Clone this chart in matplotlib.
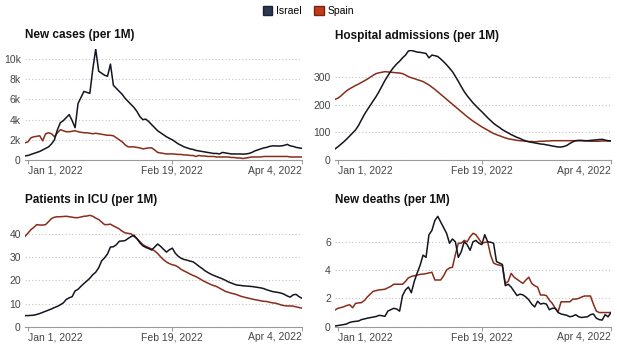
"""
Israel vs Spain covid indicators, Jan-Apr 2022 (per 1M)
"""

import numpy as np
import pandas as pd
import matplotlib
matplotlib.use("Agg")
import matplotlib.pyplot as plt
from matplotlib.patches import Patch

plt.rcParams['font.family'] = ['Liberation Sans', 'DejaVu Sans']

dates = pd.date_range("2021-12-31", periods=95, freq="D")

israel_cases = [400, 450, 550, 650, 750, 850, 1000, 1150, 1300, 1600,
                2000, 3000, 3700, 3900, 4200, 4500, 3900, 3200, 5600, 6200,
                6800, 6700, 6600, 9000, 11000, 8800, 8600, 8400, 8300, 9500,
                7400, 7100, 6800, 6500, 6100, 5800, 5500, 5200, 4800, 4300,
                4000, 4050, 3800, 3500, 3200, 2900, 2700, 2500, 2300, 2150,
                2000, 1800, 1600, 1450, 1300, 1200, 1100, 1050, 950, 900,
                850, 800, 750, 700, 650, 650, 600, 750, 700, 650,
                600, 600, 600, 600, 580, 600, 650, 750, 900, 1000,
                1100, 1200, 1250, 1350, 1400, 1400, 1380, 1400, 1450, 1550,
                1400, 1350, 1250, 1200, 1150]
spain_cases = [1700, 1800, 2200, 2300, 2350, 2400, 1900, 2600, 2700, 2600,
               2300, 2700, 3000, 2900, 2800, 2800, 2850, 2900, 2800, 2750,
               2700, 2700, 2650, 2600, 2650, 2600, 2550, 2500, 2450, 2450,
               2400, 2200, 2000, 1800, 1500, 1300, 1300, 1300, 1250, 1200,
               1100, 1150, 1200, 1200, 1000, 750, 700, 650, 600, 600,
               600, 580, 550, 550, 500, 500, 450, 450, 350, 450,
               400, 400, 350, 350, 350, 300, 300, 300, 300, 300,
               250, 250, 200, 200, 150, 200, 250, 300, 300, 300,
               300, 350, 350, 350, 350, 350, 350, 350, 350, 350,
               300, 300, 300, 300, 300]

israel_hosp = [40, 48, 57, 66, 76, 87, 98, 109, 125, 145,
               165, 182, 198, 214, 230, 248, 268, 288, 305, 322,
               336, 348, 358, 370, 380, 395, 397, 394, 391, 390,
               388, 386, 370, 380, 378, 375, 366, 356, 345, 333,
               320, 303, 285, 266, 248, 233, 220, 207, 196, 185,
               175, 164, 153, 143, 133, 125, 118, 110, 104, 98,
               92, 87, 82, 78, 73, 69, 66, 64, 62, 60,
               58, 57, 55, 53, 51, 49, 47, 47, 49, 53,
               60, 66, 70, 71, 71, 70, 70, 71, 72, 73,
               74, 75, 72, 70, 69]
spain_hosp = [220, 224, 232, 242, 251, 258, 264, 270, 275, 281,
              287, 293, 300, 307, 313, 316, 318, 320, 319, 318,
              317, 316, 315, 313, 308, 302, 298, 295, 291, 288,
              284, 278, 272, 264, 256, 247, 238, 229, 220, 211,
              202, 193, 184, 175, 166, 157, 149, 141, 134, 127,
              120, 114, 108, 102, 96, 92, 88, 84, 80, 77,
              75, 73, 71, 70, 69, 68, 67, 67, 66, 67,
              68, 68, 69, 69, 70, 70, 70, 70, 70, 70,
              70, 70, 70, 70, 70, 69, 69, 68, 68, 68,
              68, 69, 69, 69, 69]

israel_icu = [4.8, 4.8, 4.9, 5.0, 5.3, 5.7, 6.2, 6.7, 7.2, 7.7,
              8.3, 8.8, 9.5, 10.3, 11.8, 12.5, 13.0, 15.5, 16.2, 17.5,
              18.7, 19.8, 21.0, 22.5, 23.6, 25.5, 28.5, 29.8, 31.5, 34.5,
              34.6, 35.5, 37.0, 37.1, 37.3, 38.2, 39.0, 39.6, 38.0, 36.3,
              35.0, 34.3, 33.8, 33.2, 34.5, 35.8, 34.8, 33.5, 32.3, 33.3,
              34.0, 31.8, 30.5, 29.6, 29.1, 28.8, 28.4, 28.1, 27.2, 26.2,
              25.3, 24.3, 23.5, 22.8, 22.2, 21.7, 21.2, 20.7, 20.1, 19.4,
              18.9, 18.4, 18.0, 17.9, 17.7, 17.6, 17.5, 17.4, 17.2, 17.0,
              16.8, 16.5, 16.0, 15.6, 15.2, 15.0, 14.8, 14.5, 14.0, 13.3,
              12.8, 13.8, 14.0, 13.0, 12.3]
spain_icu = [39.1, 40.5, 42.0, 43.0, 44.2, 44.0, 44.0, 44.2, 45.5, 46.8,
             47.4, 47.6, 47.6, 47.7, 47.8, 47.6, 47.4, 47.2, 47.2, 47.5,
             47.8, 47.9, 48.2, 47.8, 47.0, 46.4, 45.3, 44.2, 44.2, 44.4,
             43.6, 43.0, 42.3, 41.3, 40.6, 40.4, 40.2, 39.0, 38.2, 36.8,
             35.5, 34.8, 34.2, 33.6, 32.8, 31.7, 30.3, 29.0, 28.0, 27.3,
             26.8, 26.5, 25.8, 24.8, 24.1, 23.5, 22.8, 22.2, 21.7, 21.0,
             20.2, 19.5, 18.9, 18.3, 17.8, 17.4, 16.7, 16.0, 15.3, 14.9,
             14.5, 14.2, 13.8, 13.3, 12.9, 12.6, 12.3, 12.0, 11.7, 11.5,
             11.2, 11.0, 10.9, 10.6, 10.3, 10.2, 9.8, 9.4, 9.1, 9.0,
             9.0, 8.9, 8.6, 8.3, 8.0]

israel_deaths = [0.05, 0.08, 0.12, 0.15, 0.2, 0.3, 0.35, 0.38, 0.4, 0.5,
                 0.55, 0.6, 0.64, 0.68, 0.72, 0.8, 0.78, 0.73, 1.1, 1.2,
                 1.3, 1.25, 1.1, 2.2, 2.6, 2.8, 2.4, 3.2, 3.8, 4.35,
                 5.06, 4.9, 6.5, 6.8, 7.5, 7.8, 7.4, 7.0, 6.6, 5.9,
                 6.2, 6.0, 4.9, 5.3, 6.0, 5.8, 5.4, 6.0, 6.1, 5.9,
                 5.8, 6.5, 6.0, 5.97, 5.9, 4.6, 4.5, 4.4, 2.9, 3.0,
                 2.8, 2.5, 2.2, 2.3, 2.25, 2.1, 1.9, 1.6, 1.4, 1.8,
                 1.6, 1.65, 1.6, 1.2, 1.3, 1.3, 1.0, 0.9, 0.85, 0.8,
                 0.7, 0.75, 0.85, 0.7, 0.65, 0.68, 0.7, 0.85, 0.9, 0.6,
                 0.5, 0.47, 0.85, 0.7, 1.0]
spain_deaths = [1.18, 1.3, 1.35, 1.41, 1.5, 1.55, 1.34, 1.65, 1.68, 1.7,
                1.85, 2.1, 2.3, 2.5, 2.55, 2.6, 2.62, 2.65, 2.75, 2.85,
                3.0, 3.0, 3.0, 3.0, 3.2, 3.45, 3.55, 3.6, 3.65, 3.7,
                3.72, 3.75, 3.8, 3.85, 3.3, 3.3, 3.3, 3.6, 4.0, 4.15,
                4.2, 5.1, 5.9, 5.9, 6.1, 6.0, 6.35, 6.6, 6.5, 6.2,
                5.9, 5.95, 6.0, 5.06, 4.5, 4.4, 4.35, 4.3, 3.06, 3.2,
                3.77, 3.5, 3.35, 3.2, 3.06, 3.3, 3.5, 3.06, 2.9, 2.8,
                2.24, 2.24, 2.2, 1.88, 1.65, 1.3, 1.06, 1.76, 1.76, 1.76,
                1.76, 1.95, 1.95, 2.0, 2.1, 2.17, 2.17, 2.17, 1.6, 1.1,
                1.0, 1.0, 1.0, 1.0, 1.0]

titles = ["New cases (per 1M)", "Hospital admissions (per 1M)",
          "Patients in ICU (per 1M)", "New deaths (per 1M)"]
yticks = [[0, 2000, 4000, 6000, 8000, 10000], [0, 100, 200, 300],
          [0, 10, 20, 30, 40], [0, 2, 4, 6]]
yticklabels = [["0", "2k", "4k", "6k", "8k", "10k"], ["0", "100", "200", "300"],
               ["0", "10", "20", "30", "40"], ["0", "2", "4", "6"]]
ylims = [11000, 400, 49, 8]
xtick_dates = pd.to_datetime(["2022-01-01", "2022-02-19", "2022-04-04"])
xtick_labels = ["Jan 1, 2022", "Feb 19, 2022", "Apr 4, 2022"]

series = [(israel_cases, spain_cases), (israel_hosp, spain_hosp),
          (israel_icu, spain_icu), (israel_deaths, spain_deaths)]

c_isr = '#14161f'
c_esp = '#8a2c1a'

W, H = 617, 349
fig = plt.figure(figsize=(W/100, H/100), dpi=100)

# axes boxes in pixels: left, top, right, bottom
boxes = [(25, 49, 302, 160), (335, 49.6, 611, 160),
         (25, 213.5, 302, 326.7), (335, 213.5, 611, 326.7)]

for i, (l, t, r, b) in enumerate(boxes):
    ax = fig.add_axes([l/W, 1-b/H, (r-l)/W, (b-t)/H])
    isr, esp = series[i]
    ax.plot(dates, esp, color=c_esp, lw=1.1, zorder=3)
    ax.plot(dates, isr, color=c_isr, lw=1.1, zorder=4)
    ax.set_xlim(dates[0], dates[-1])
    ax.set_ylim(0, ylims[i])
    ax.set_yticks(yticks[i])
    ax.set_yticklabels(yticklabels[i])
    ax.set_xticks(xtick_dates)
    ax.set_xticklabels(xtick_labels)
    for lab, ha in zip(ax.get_xticklabels(), ['left', 'center', 'right']):
        lab.set_ha(ha)
    ax.yaxis.grid(True, linestyle=(0, (1, 2)), color='#c4c4c4', lw=0.8)
    ax.set_axisbelow(True)
    for s in ['top', 'right', 'left']:
        ax.spines[s].set_visible(False)
    ax.spines['bottom'].set_color('#9a9a9a')
    ax.spines['bottom'].set_linewidth(0.8)
    ax.tick_params(axis='y', length=0, pad=3, labelsize=7.5, labelcolor='#444444')
    ax.tick_params(axis='x', length=3, width=0.7, color='#9a9a9a', pad=1,
                   labelsize=7.5, labelcolor='#444444')
    fig.text(l/W, 1-(t-14)/H, titles[i], fontsize=8.5, fontweight='bold',
             color='#111111', ha='left', va='center')

handles = [Patch(facecolor='#2b3850', edgecolor='#1a2233', label='Israel'),
           Patch(facecolor='#c03a1c', edgecolor='#7a2410', label='Spain')]
fig.legend(handles=handles, loc='upper center', bbox_to_anchor=(0.5, 1.01),
           ncol=2, frameon=False, fontsize=7.5, handlelength=0.9, handleheight=0.9,
           handletextpad=0.4, columnspacing=1.2)

fig.savefig('out.png', dpi=100)
